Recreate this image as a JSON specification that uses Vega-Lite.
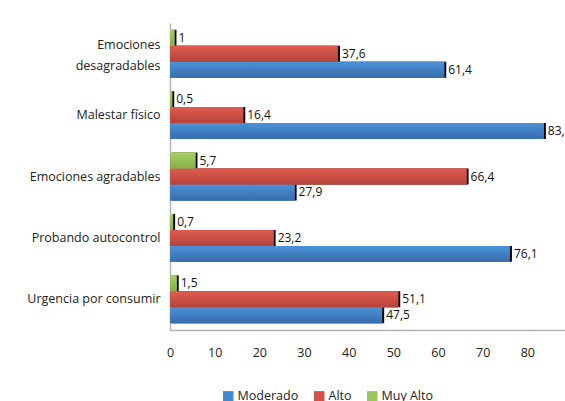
{
  "$schema": "https://vega.github.io/schema/vega-lite/v6.json",
  "width": 402,
  "height": 307,
  "autosize": {"type": "none"},
  "padding": {"left": 170, "top": 23, "right": 0, "bottom": 71},
  "background": "white",
  "config": {
    "locale": {"number": {"decimal": ",", "thousands": ".", "grouping": [3], "currency": ["", "€"]}},
    "view": {"stroke": null},
    "font": "Open Sans"
  },
  "data": {
    "values": [
      {"cat": "Emociones desagradables", "serie": "Moderado", "v": 61.4},
      {"cat": "Emociones desagradables", "serie": "Alto", "v": 37.6},
      {"cat": "Emociones desagradables", "serie": "Muy Alto", "v": 1},
      {"cat": "Malestar físico", "serie": "Moderado", "v": 83.7},
      {"cat": "Malestar físico", "serie": "Alto", "v": 16.4},
      {"cat": "Malestar físico", "serie": "Muy Alto", "v": 0.5},
      {"cat": "Emociones agradables", "serie": "Moderado", "v": 27.9},
      {"cat": "Emociones agradables", "serie": "Alto", "v": 66.4},
      {"cat": "Emociones agradables", "serie": "Muy Alto", "v": 5.7},
      {"cat": "Probando autocontrol", "serie": "Moderado", "v": 76.1},
      {"cat": "Probando autocontrol", "serie": "Alto", "v": 23.2},
      {"cat": "Probando autocontrol", "serie": "Muy Alto", "v": 0.7},
      {"cat": "Urgencia por consumir", "serie": "Moderado", "v": 47.5},
      {"cat": "Urgencia por consumir", "serie": "Alto", "v": 51.1},
      {"cat": "Urgencia por consumir", "serie": "Muy Alto", "v": 1.5}
    ]
  },
  "encoding": {
    "y": {
      "field": "cat",
      "type": "nominal",
      "sort": ["Emociones desagradables", "Malestar físico", "Emociones agradables", "Probando autocontrol", "Urgencia por consumir"],
      "scale": {"paddingInner": 0.22, "paddingOuter": 0.11},
      "axis": {
        "title": null,
        "ticks": false,
        "domainColor": "#b5b5b5",
        "domainWidth": 1.5,
        "labelFontSize": 12.5,
        "labelColor": "#222222",
        "labelPadding": 10,
        "labelExpr": "datum.value == 'Emociones desagradables' ? ['Emociones', 'desagradables'] : datum.value",
        "labelLineHeight": 21,
        "labelOffset": {"condition": {"test": "datum.value == 'Emociones desagradables'", "value": -9}, "value": 0}
      }
    },
    "yOffset": {"field": "serie", "sort": ["Muy Alto", "Alto", "Moderado"]},
    "x": {
      "field": "v",
      "type": "quantitative",
      "scale": {"domain": [0, 90], "nice": false},
      "axis": {
        "title": null,
        "grid": false,
        "ticks": false,
        "values": [0, 10, 20, 30, 40, 50, 60, 70, 80],
        "domainColor": "#b5b5b5",
        "domainWidth": 1.5,
        "labelFontSize": 12.5,
        "labelColor": "#222222",
        "labelPadding": 16,
        "labelFlush": false
      }
    }
  },
  "layer": [
    {"mark": {"type": "bar", "color": "black", "xOffset": 2, "yOffset": 2}},
    {
      "mark": {"type": "bar"},
      "encoding": {
        "color": {
          "field": "serie",
          "type": "nominal",
          "sort": ["Moderado", "Alto", "Muy Alto"],
          "scale": {"domain": ["Moderado", "Alto", "Muy Alto"], "range": ["#4387cc", "#d4504a", "#9cc65c"]},
          "legend": {
            "title": null,
            "orient": "none",
            "legendX": 52,
            "legendY": 367,
            "direction": "horizontal",
            "symbolType": "square",
            "symbolSize": 110,
            "symbolStrokeWidth": 0,
            "labelFontSize": 12.5,
            "labelColor": "#222222",
            "columnPadding": 14,
            "labelOffset": 3
          }
        }
      }
    },
    {
      "transform": [{"filter": "datum.serie == 'Moderado'"}],
      "mark": {"type": "bar", "fill": {"gradient": "linear", "x1": 0, "y1": 0, "x2": 0, "y2": 1, "stops": [{"offset": 0, "color": "#4b92d8"}, {"offset": 1, "color": "#386dab"}]}}
    },
    {
      "transform": [{"filter": "datum.serie == 'Alto'"}],
      "mark": {"type": "bar", "fill": {"gradient": "linear", "x1": 0, "y1": 0, "x2": 0, "y2": 1, "stops": [{"offset": 0, "color": "#df5b4f"}, {"offset": 1, "color": "#b6433b"}]}}
    },
    {
      "transform": [{"filter": "datum.serie == 'Muy Alto'"}],
      "mark": {"type": "bar", "fill": {"gradient": "linear", "x1": 0, "y1": 0, "x2": 0, "y2": 1, "stops": [{"offset": 0, "color": "#a6cf64"}, {"offset": 1, "color": "#87ae48"}]}}
    },
    {
      "mark": {"type": "text", "align": "left", "dx": 4, "fontSize": 12, "color": "#111111"},
      "encoding": {"text": {"field": "v", "type": "quantitative", "format": ".1~f"}}
    }
  ]
}
